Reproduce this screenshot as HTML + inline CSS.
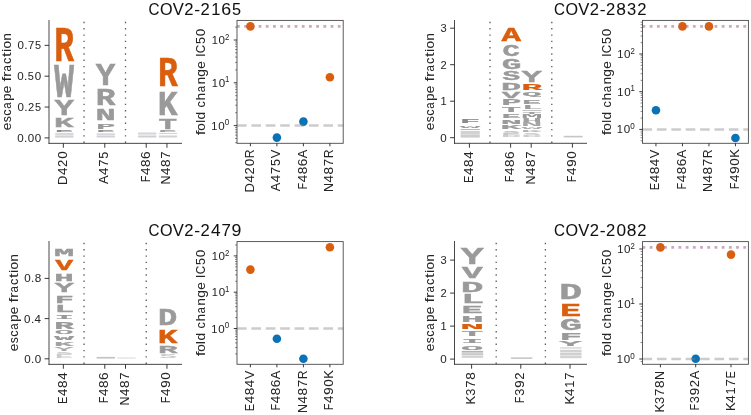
<!DOCTYPE html>
<html><head><meta charset="utf-8"><title>escape logos</title>
<style>html,body{margin:0;padding:0;background:#fff;overflow:hidden}
svg{display:block;will-change:transform}
text{font-family:"Liberation Sans",sans-serif;font-size:100px;font-kerning:none;font-variant-ligatures:none;white-space:pre}
text.lg{font-family:"Liberation Mono",monospace;font-weight:bold}</style></head>
<body><svg width="751" height="415" viewBox="0 0 751 415">
<rect width="751" height="415" fill="#fff"/>
<line x1="84.07" y1="21.8" x2="84.07" y2="143.35" stroke="#5a5a5a" stroke-width="1.3" stroke-dasharray="1.4 4.9"/>
<line x1="125.51" y1="21.8" x2="125.51" y2="143.35" stroke="#5a5a5a" stroke-width="1.3" stroke-dasharray="1.4 4.9"/>
<text class="lg" transform="matrix(0.329,0,0,0.49948,54.28886,61.2)" fill="#d95f0e" stroke="#d95f0e" stroke-width="0.6" vector-effect="non-scaling-stroke">R</text>
<text class="lg" transform="matrix(0.32855,0,0,0.47974,54.3,96.9)" fill="#9a9a9a" stroke="#9a9a9a" stroke-width="0.6" vector-effect="non-scaling-stroke">W</text>
<text class="lg" transform="matrix(0.32575,0,0,0.21406,54.38399,114.7)" fill="#9a9a9a" stroke="#9a9a9a" stroke-width="0.6" vector-effect="non-scaling-stroke">Y</text>
<text class="lg" transform="matrix(0.33057,0,0,0.13056,54.03111,126.5)" fill="#9a9a9a" stroke="#9a9a9a" stroke-width="0.6" vector-effect="non-scaling-stroke">K</text>
<text class="lg" transform="matrix(0.31078,0,0,0.03947,54.68698,131.6)" fill="#8a8a8a">E</text>
<rect x="55.218" y="132.9" width="18.27" height="2" fill="#d6d8db"/>
<rect x="55.218" y="135.4" width="18.27" height="2.2" fill="#d0d2d5"/>
<text class="lg" transform="matrix(0.32575,0,0,0.31881,95.82399,84.7)" fill="#9a9a9a" stroke="#9a9a9a" stroke-width="0.6" vector-effect="non-scaling-stroke">Y</text>
<text class="lg" transform="matrix(0.329,0,0,0.24291,95.72886,105.3)" fill="#9a9a9a" stroke="#9a9a9a" stroke-width="0.6" vector-effect="non-scaling-stroke">R</text>
<text class="lg" transform="matrix(0.33632,0,0,0.17003,95.48224,119.7)" fill="#9a9a9a" stroke="#9a9a9a" stroke-width="0.6" vector-effect="non-scaling-stroke">N</text>
<text class="lg" transform="matrix(0.31793,0,0,0.07894,96.29592,128.5)" fill="#9a9a9a" stroke="#9a9a9a" stroke-width="0.6" vector-effect="non-scaling-stroke">P</text>
<text class="lg" transform="matrix(0.31078,0,0,0.03036,96.12698,132.4)" fill="#8f8f8f">E</text>
<rect x="96.658" y="133.3" width="18.27" height="1.8" fill="#d6d8db"/>
<rect x="96.658" y="135.5" width="18.27" height="2" fill="#d0d2d5"/>
<rect x="138.098" y="132.5" width="18.27" height="2.1" fill="#d4d6da"/>
<rect x="138.098" y="135.5" width="18.27" height="2" fill="#cdcfd2"/>
<text class="lg" transform="matrix(0.329,0,0,0.43268,157.88886,86.3)" fill="#d95f0e" stroke="#d95f0e" stroke-width="0.6" vector-effect="non-scaling-stroke">R</text>
<text class="lg" transform="matrix(0.33057,0,0,0.35829,157.63111,114.5)" fill="#9a9a9a" stroke="#9a9a9a" stroke-width="0.6" vector-effect="non-scaling-stroke">K</text>
<text class="lg" transform="matrix(0.30963,0,0,0.14574,158.45951,128.7)" fill="#9a9a9a" stroke="#9a9a9a" stroke-width="0.6" vector-effect="non-scaling-stroke">T</text>
<text class="lg" transform="matrix(0.31078,0,0,0.02581,158.28698,132.4)" fill="#a0a0a0">E</text>
<rect x="158.818" y="133" width="18.27" height="1" fill="#d4d4d4"/>
<rect x="158.818" y="135.5" width="18.27" height="2" fill="#d0d2d5"/>
<line x1="49" y1="20" x2="49" y2="143.8" stroke="#333333" stroke-width="0.9"/>
<line x1="48.55" y1="143.35" x2="182" y2="143.35" stroke="#333333" stroke-width="0.9"/>
<line x1="44.6" y1="45.35" x2="49" y2="45.35" stroke="#222222" stroke-width="0.9"/>
<text transform="matrix(0.11,0,0,0.11717,17.16924,49.35415)" y="0" fill="#262626" stroke="#262626" stroke-width="0.25" vector-effect="non-scaling-stroke"><tspan x="2.47" textLength="58.63" lengthAdjust="spacingAndGlyphs">0</tspan><tspan x="64.44" textLength="30.06" lengthAdjust="spacingAndGlyphs">.</tspan><tspan x="98.33" textLength="57.35" lengthAdjust="spacingAndGlyphs">7</tspan><tspan x="162.76" textLength="55.33" lengthAdjust="spacingAndGlyphs">5</tspan></text>
<line x1="44.6" y1="76.2" x2="49" y2="76.2" stroke="#222222" stroke-width="0.9"/>
<text transform="matrix(0.11,0,0,0.11747,16.93828,80.20415)" y="0" fill="#262626" stroke="#262626" stroke-width="0.25" vector-effect="non-scaling-stroke"><tspan x="2.47" textLength="58.63" lengthAdjust="spacingAndGlyphs">0</tspan><tspan x="64.44" textLength="30.06" lengthAdjust="spacingAndGlyphs">.</tspan><tspan x="99.14" textLength="55.33" lengthAdjust="spacingAndGlyphs">5</tspan><tspan x="161.51" textLength="58.63" lengthAdjust="spacingAndGlyphs">0</tspan></text>
<line x1="44.6" y1="107.05" x2="49" y2="107.05" stroke="#222222" stroke-width="0.9"/>
<text transform="matrix(0.11,0,0,0.11728,17.16924,111.05415)" y="0" fill="#262626" stroke="#262626" stroke-width="0.25" vector-effect="non-scaling-stroke"><tspan x="2.47" textLength="58.63" lengthAdjust="spacingAndGlyphs">0</tspan><tspan x="64.44" textLength="30.06" lengthAdjust="spacingAndGlyphs">.</tspan><tspan x="97.62" textLength="56.51" lengthAdjust="spacingAndGlyphs">2</tspan><tspan x="162.76" textLength="55.33" lengthAdjust="spacingAndGlyphs">5</tspan></text>
<line x1="44.6" y1="137.9" x2="49" y2="137.9" stroke="#222222" stroke-width="0.9"/>
<text transform="matrix(0.11,0,0,0.11759,16.93828,141.90415)" y="0" fill="#262626" stroke="#262626" stroke-width="0.25" vector-effect="non-scaling-stroke"><tspan x="2.47" textLength="58.63" lengthAdjust="spacingAndGlyphs">0</tspan><tspan x="64.44" textLength="30.06" lengthAdjust="spacingAndGlyphs">.</tspan><tspan x="97.88" textLength="58.63" lengthAdjust="spacingAndGlyphs">0</tspan><tspan x="161.51" textLength="58.63" lengthAdjust="spacingAndGlyphs">0</tspan></text>
<line x1="63.35" y1="143.35" x2="63.35" y2="147.75" stroke="#222222" stroke-width="0.9"/>
<text transform="matrix(0,-0.127,0.13496,0,66.85,185.06963)" y="0" fill="#262626" stroke="#262626" stroke-width="0.25" vector-effect="non-scaling-stroke"><tspan x="1.33" textLength="74.72" lengthAdjust="spacingAndGlyphs">D</tspan><tspan x="79.47" textLength="58.63" lengthAdjust="spacingAndGlyphs">4</tspan><tspan x="142.84" textLength="56.51" lengthAdjust="spacingAndGlyphs">2</tspan><tspan x="206.72" textLength="58.63" lengthAdjust="spacingAndGlyphs">0</tspan></text>
<line x1="104.79" y1="143.35" x2="104.79" y2="147.75" stroke="#222222" stroke-width="0.9"/>
<text transform="matrix(0,-0.127,0.13475,0,108.29,183.97822)" y="0" fill="#262626" stroke="#262626" stroke-width="0.25" vector-effect="non-scaling-stroke"><tspan x="0.58" textLength="67.19" lengthAdjust="spacingAndGlyphs">A</tspan><tspan x="70.87" textLength="58.63" lengthAdjust="spacingAndGlyphs">4</tspan><tspan x="134.95" textLength="57.35" lengthAdjust="spacingAndGlyphs">7</tspan><tspan x="199.39" textLength="55.33" lengthAdjust="spacingAndGlyphs">5</tspan></text>
<line x1="146.23" y1="143.35" x2="146.23" y2="147.75" stroke="#222222" stroke-width="0.9"/>
<text transform="matrix(0,-0.127,0.13514,0,149.73,182.59536)" y="0" fill="#262626" stroke="#262626" stroke-width="0.25" vector-effect="non-scaling-stroke"><tspan x="2.78" textLength="52.36" lengthAdjust="spacingAndGlyphs">F</tspan><tspan x="59.98" textLength="58.63" lengthAdjust="spacingAndGlyphs">4</tspan><tspan x="123.30" textLength="59.26" lengthAdjust="spacingAndGlyphs">8</tspan><tspan x="186.21" textLength="60.68" lengthAdjust="spacingAndGlyphs">6</tspan></text>
<line x1="166.95" y1="143.35" x2="166.95" y2="147.75" stroke="#222222" stroke-width="0.9"/>
<text transform="matrix(0,-0.127,0.13486,0,170.45,184.79058)" y="0" fill="#262626" stroke="#262626" stroke-width="0.25" vector-effect="non-scaling-stroke"><tspan x="1.71" textLength="71.33" lengthAdjust="spacingAndGlyphs">N</tspan><tspan x="77.27" textLength="58.63" lengthAdjust="spacingAndGlyphs">4</tspan><tspan x="140.58" textLength="59.26" lengthAdjust="spacingAndGlyphs">8</tspan><tspan x="204.97" textLength="57.35" lengthAdjust="spacingAndGlyphs">7</tspan></text>
<text transform="matrix(0,-0.1264,0.13245,0,11.2,130.36461)" y="0" fill="#262626" stroke="#262626" stroke-width="0.25" vector-effect="non-scaling-stroke"><tspan x="0.93" textLength="60.07" lengthAdjust="spacingAndGlyphs">e</tspan><tspan x="64.28" textLength="47.93" lengthAdjust="spacingAndGlyphs">s</tspan><tspan x="114.88" textLength="50.17" lengthAdjust="spacingAndGlyphs">c</tspan><tspan x="170.79" textLength="50.01" lengthAdjust="spacingAndGlyphs">a</tspan><tspan x="231.95" textLength="60.51" lengthAdjust="spacingAndGlyphs">p</tspan><tspan x="294.29" textLength="60.07" lengthAdjust="spacingAndGlyphs">e</tspan><tspan x="354.88"> </tspan><tspan x="387.11" textLength="36.48" lengthAdjust="spacingAndGlyphs">f</tspan><tspan x="422.45" textLength="42.67" lengthAdjust="spacingAndGlyphs">r</tspan><tspan x="465.17" textLength="50.01" lengthAdjust="spacingAndGlyphs">a</tspan><tspan x="525.52" textLength="50.17" lengthAdjust="spacingAndGlyphs">c</tspan><tspan x="579.91" textLength="37.13" lengthAdjust="spacingAndGlyphs">t</tspan><tspan x="621.04" textLength="22.71" lengthAdjust="spacingAndGlyphs">i</tspan><tspan x="647.29" textLength="59.12" lengthAdjust="spacingAndGlyphs">o</tspan><tspan x="709.34" textLength="59.96" lengthAdjust="spacingAndGlyphs">n</tspan></text>
<line x1="490" y1="21.8" x2="490" y2="143.3" stroke="#5a5a5a" stroke-width="1.3" stroke-dasharray="1.4 4.9"/>
<line x1="551.8" y1="21.8" x2="551.8" y2="143.3" stroke="#5a5a5a" stroke-width="1.3" stroke-dasharray="1.4 4.9"/>
<text class="lg" transform="matrix(0.33567,0,0,0.05314,460.09214,122.5)" fill="#8a8a8a" stroke="#8a8a8a" stroke-width="0.6" vector-effect="non-scaling-stroke">F</text>
<text class="lg" transform="matrix(0.35356,0,0,0.04251,459.4,127.6)" fill="#9a9a9a">W</text>
<rect x="460.672" y="129" width="19.08" height="1" fill="#b8b8b8"/>
<rect x="460.672" y="130.9" width="19.08" height="3.3" fill="#d2d2d2"/>
<rect x="460.672" y="134.4" width="19.08" height="3.2" fill="#cdcdcd"/>
<text class="lg" transform="matrix(0.32437,0,0,0.20951,501.4674,41.2)" fill="#d95f0e" stroke="#d95f0e" stroke-width="0.6" vector-effect="non-scaling-stroke">A</text>
<text class="lg" transform="matrix(0.28832,0,0,0.16207,502.38723,56.24173)" fill="#9a9a9a" stroke="#9a9a9a" stroke-width="0.6" vector-effect="non-scaling-stroke">C</text>
<text class="lg" transform="matrix(0.32864,0,0,0.13997,501.62791,68.56331)" fill="#9a9a9a" stroke="#9a9a9a" stroke-width="0.6" vector-effect="non-scaling-stroke">G</text>
<text class="lg" transform="matrix(0.29561,0,0,0.13702,502.56951,79.86619)" fill="#9a9a9a" stroke="#9a9a9a" stroke-width="0.6" vector-effect="non-scaling-stroke">S</text>
<text class="lg" transform="matrix(0.33654,0,0,0.10475,501.03716,89.7)" fill="#9a9a9a" stroke="#9a9a9a" stroke-width="0.6" vector-effect="non-scaling-stroke">D</text>
<text class="lg" transform="matrix(0.31188,0,0,0.09716,501.83436,97.9)" fill="#9a9a9a" stroke="#9a9a9a" stroke-width="0.6" vector-effect="non-scaling-stroke">V</text>
<text class="lg" transform="matrix(0.33256,0,0,0.08198,501.47697,105.4)" fill="#9a9a9a" stroke="#9a9a9a" stroke-width="0.6" vector-effect="non-scaling-stroke">P</text>
<text class="lg" transform="matrix(0.32385,0,0,0.07135,501.48285,111.7)" fill="#9a9a9a" stroke="#9a9a9a" stroke-width="0.6" vector-effect="non-scaling-stroke">T</text>
<text class="lg" transform="matrix(0.31238,0,0,0.05314,501.6989,117.7)" fill="#9a9a9a" stroke="#9a9a9a" stroke-width="0.6" vector-effect="non-scaling-stroke">E</text>
<text class="lg" transform="matrix(0.3518,0,0,0.05769,500.62707,124)" fill="#9a9a9a" stroke="#9a9a9a" stroke-width="0.6" vector-effect="non-scaling-stroke">N</text>
<text class="lg" transform="matrix(0.34572,0,0,0.05314,500.61588,129.3)" fill="#9a9a9a" stroke="#9a9a9a" stroke-width="0.6" vector-effect="non-scaling-stroke">K</text>
<text class="lg" transform="matrix(0.30651,0,0,0.02947,502.24928,132.57122)" fill="#b8b8b8">S</text>
<text class="lg" transform="matrix(0.32456,0,0,0.03036,501.31744,135)" fill="#c4c4c4">E</text>
<text class="lg" transform="matrix(0.34866,0,0,0.02885,500.65728,137.2)" fill="#cccccc">D</text>
<text class="lg" transform="matrix(0.34063,0,0,0.17003,521.58765,81.9)" fill="#9a9a9a" stroke="#9a9a9a" stroke-width="0.6" vector-effect="non-scaling-stroke">Y</text>
<text class="lg" transform="matrix(0.34409,0,0,0.0835,521.48503,90)" fill="#d95f0e" stroke="#d95f0e" stroke-width="0.6" vector-effect="non-scaling-stroke">R</text>
<text class="lg" transform="matrix(0.32582,0,0,0.06007,521.93638,96.31805)" fill="#9a9a9a" stroke="#9a9a9a" stroke-width="0.6" vector-effect="non-scaling-stroke">Q</text>
<text class="lg" transform="matrix(0.31238,0,0,0.06073,522.2989,104.2)" fill="#9a9a9a" stroke="#9a9a9a" stroke-width="0.6" vector-effect="non-scaling-stroke">E</text>
<text class="lg" transform="matrix(0.35793,0,0,0.04858,521.38098,109)" fill="#9a9a9a">L</text>
<rect x="522.472" y="110.1" width="19.08" height="0.8" fill="#b4b4b4"/>
<text class="lg" transform="matrix(0.33495,0,0,0.03644,521.74978,113.8)" fill="#a0a0a0">T</text>
<text class="lg" transform="matrix(0.36238,0,0,0.04403,520.92695,118.2)" fill="#9a9a9a">M</text>
<text class="lg" transform="matrix(0.35435,0,0,0.04403,521.16787,122.2)" fill="#a0a0a0">H</text>
<text class="lg" transform="matrix(0.36461,0,0,0.04403,520.8426,126.1)" fill="#a5a5a5">N</text>
<text class="lg" transform="matrix(0.35356,0,0,0.03492,521.2,129)" fill="#aaaaaa">W</text>
<text class="lg" transform="matrix(0.35696,0,0,0.04099,520.84123,132.3)" fill="#b4b4b4">K</text>
<text class="lg" transform="matrix(0.30651,0,0,0.02947,522.84928,134.97122)" fill="#c4c4c4">S</text>
<text class="lg" transform="matrix(0.34866,0,0,0.03036,521.25728,137.4)" fill="#cccccc">D</text>
<rect x="563.672" y="135.8" width="19.08" height="1.6" fill="#c6c6c6"/>
<line x1="454.5" y1="20" x2="454.5" y2="143.75" stroke="#333333" stroke-width="0.9"/>
<line x1="454.05" y1="143.3" x2="587" y2="143.3" stroke="#333333" stroke-width="0.9"/>
<line x1="450.1" y1="28.2" x2="454.5" y2="28.2" stroke="#222222" stroke-width="0.9"/>
<text transform="matrix(0.11,0,0,0.11751,440.08232,32.20415)" y="0" fill="#262626" stroke="#262626" stroke-width="0.25" vector-effect="non-scaling-stroke"><tspan x="3.76" textLength="56.30" lengthAdjust="spacingAndGlyphs">3</tspan></text>
<line x1="450.1" y1="64.7" x2="454.5" y2="64.7" stroke="#222222" stroke-width="0.9"/>
<text transform="matrix(0.11,0,0,0.11692,440.30254,68.78203)" y="0" fill="#262626" stroke="#262626" stroke-width="0.25" vector-effect="non-scaling-stroke"><tspan x="2.21" textLength="56.51" lengthAdjust="spacingAndGlyphs">2</tspan></text>
<line x1="450.1" y1="101.2" x2="454.5" y2="101.2" stroke="#222222" stroke-width="0.9"/>
<text transform="matrix(0.11,0,0,0.11656,440.2166,105.20952)" y="0" fill="#262626" stroke="#262626" stroke-width="0.25" vector-effect="non-scaling-stroke"><tspan x="3.32" textLength="55.99" lengthAdjust="spacingAndGlyphs">1</tspan></text>
<line x1="450.1" y1="137.7" x2="454.5" y2="137.7" stroke="#222222" stroke-width="0.9"/>
<text transform="matrix(0.11,0,0,0.11751,439.93193,141.70415)" y="0" fill="#262626" stroke="#262626" stroke-width="0.25" vector-effect="non-scaling-stroke"><tspan x="2.47" textLength="58.63" lengthAdjust="spacingAndGlyphs">0</tspan></text>
<line x1="469.4" y1="143.3" x2="469.4" y2="147.7" stroke="#222222" stroke-width="0.9"/>
<text transform="matrix(0,-0.127,0.13486,0,472.9,183.2647)" y="0" fill="#262626" stroke="#262626" stroke-width="0.25" vector-effect="non-scaling-stroke"><tspan x="2.71" textLength="57.81" lengthAdjust="spacingAndGlyphs">E</tspan><tspan x="65.65" textLength="58.63" lengthAdjust="spacingAndGlyphs">4</tspan><tspan x="128.96" textLength="59.26" lengthAdjust="spacingAndGlyphs">8</tspan><tspan x="192.89" textLength="58.63" lengthAdjust="spacingAndGlyphs">4</tspan></text>
<line x1="510.6" y1="143.3" x2="510.6" y2="147.7" stroke="#222222" stroke-width="0.9"/>
<text transform="matrix(0,-0.127,0.13514,0,514.1,182.54536)" y="0" fill="#262626" stroke="#262626" stroke-width="0.25" vector-effect="non-scaling-stroke"><tspan x="2.78" textLength="52.36" lengthAdjust="spacingAndGlyphs">F</tspan><tspan x="59.98" textLength="58.63" lengthAdjust="spacingAndGlyphs">4</tspan><tspan x="123.30" textLength="59.26" lengthAdjust="spacingAndGlyphs">8</tspan><tspan x="186.21" textLength="60.68" lengthAdjust="spacingAndGlyphs">6</tspan></text>
<line x1="531.2" y1="143.3" x2="531.2" y2="147.7" stroke="#222222" stroke-width="0.9"/>
<text transform="matrix(0,-0.127,0.13486,0,534.7,184.74058)" y="0" fill="#262626" stroke="#262626" stroke-width="0.25" vector-effect="non-scaling-stroke"><tspan x="1.71" textLength="71.33" lengthAdjust="spacingAndGlyphs">N</tspan><tspan x="77.27" textLength="58.63" lengthAdjust="spacingAndGlyphs">4</tspan><tspan x="140.58" textLength="59.26" lengthAdjust="spacingAndGlyphs">8</tspan><tspan x="204.97" textLength="57.35" lengthAdjust="spacingAndGlyphs">7</tspan></text>
<line x1="572.4" y1="143.3" x2="572.4" y2="147.7" stroke="#222222" stroke-width="0.9"/>
<text transform="matrix(0,-0.127,0.13514,0,575.9,182.54536)" y="0" fill="#262626" stroke="#262626" stroke-width="0.25" vector-effect="non-scaling-stroke"><tspan x="2.78" textLength="52.36" lengthAdjust="spacingAndGlyphs">F</tspan><tspan x="59.98" textLength="58.63" lengthAdjust="spacingAndGlyphs">4</tspan><tspan x="122.34" textLength="60.55" lengthAdjust="spacingAndGlyphs">9</tspan><tspan x="187.24" textLength="58.63" lengthAdjust="spacingAndGlyphs">0</tspan></text>
<text transform="matrix(0,-0.1264,0.13245,0,433.6,130.36461)" y="0" fill="#262626" stroke="#262626" stroke-width="0.25" vector-effect="non-scaling-stroke"><tspan x="0.93" textLength="60.07" lengthAdjust="spacingAndGlyphs">e</tspan><tspan x="64.28" textLength="47.93" lengthAdjust="spacingAndGlyphs">s</tspan><tspan x="114.88" textLength="50.17" lengthAdjust="spacingAndGlyphs">c</tspan><tspan x="170.79" textLength="50.01" lengthAdjust="spacingAndGlyphs">a</tspan><tspan x="231.95" textLength="60.51" lengthAdjust="spacingAndGlyphs">p</tspan><tspan x="294.29" textLength="60.07" lengthAdjust="spacingAndGlyphs">e</tspan><tspan x="354.88"> </tspan><tspan x="387.11" textLength="36.48" lengthAdjust="spacingAndGlyphs">f</tspan><tspan x="422.45" textLength="42.67" lengthAdjust="spacingAndGlyphs">r</tspan><tspan x="465.17" textLength="50.01" lengthAdjust="spacingAndGlyphs">a</tspan><tspan x="525.52" textLength="50.17" lengthAdjust="spacingAndGlyphs">c</tspan><tspan x="579.91" textLength="37.13" lengthAdjust="spacingAndGlyphs">t</tspan><tspan x="621.04" textLength="22.71" lengthAdjust="spacingAndGlyphs">i</tspan><tspan x="647.29" textLength="59.12" lengthAdjust="spacingAndGlyphs">o</tspan><tspan x="709.34" textLength="59.96" lengthAdjust="spacingAndGlyphs">n</tspan></text>
<line x1="84.07" y1="242.8" x2="84.07" y2="364.35" stroke="#5a5a5a" stroke-width="1.3" stroke-dasharray="1.4 4.9"/>
<line x1="146.23" y1="242.8" x2="146.23" y2="364.35" stroke="#5a5a5a" stroke-width="1.3" stroke-dasharray="1.4 4.9"/>
<text class="lg" transform="matrix(0.33507,0,0,0.11538,54.09616,255.9)" fill="#9a9a9a" stroke="#9a9a9a" stroke-width="0.6" vector-effect="non-scaling-stroke">M</text>
<text class="lg" transform="matrix(0.29822,0,0,0.14423,55.19476,270.4)" fill="#d95f0e" stroke="#d95f0e" stroke-width="0.6" vector-effect="non-scaling-stroke">V</text>
<text class="lg" transform="matrix(0.32641,0,0,0.11083,54.35612,280.6)" fill="#9a9a9a" stroke="#9a9a9a" stroke-width="0.6" vector-effect="non-scaling-stroke">H</text>
<text class="lg" transform="matrix(0.32575,0,0,0.12297,54.38399,291.9)" fill="#9a9a9a" stroke="#9a9a9a" stroke-width="0.6" vector-effect="non-scaling-stroke">Y</text>
<text class="lg" transform="matrix(0.32086,0,0,0.10931,54.68002,302.7)" fill="#9a9a9a" stroke="#9a9a9a" stroke-width="0.6" vector-effect="non-scaling-stroke">F</text>
<text class="lg" transform="matrix(0.32924,0,0,0.10931,54.61226,312.3)" fill="#9a9a9a" stroke="#9a9a9a" stroke-width="0.6" vector-effect="non-scaling-stroke">L</text>
<text class="lg" transform="matrix(0.31383,0,0,0.06224,54.72599,319.2)" fill="#9a9a9a" stroke="#9a9a9a" stroke-width="0.6" vector-effect="non-scaling-stroke">I</text>
<text class="lg" transform="matrix(0.329,0,0,0.1002,54.28886,328.7)" fill="#9a9a9a" stroke="#9a9a9a" stroke-width="0.6" vector-effect="non-scaling-stroke">R</text>
<text class="lg" transform="matrix(0.32599,0,0,0.05157,54.36861,334.24964)" fill="#9a9a9a">O</text>
<text class="lg" transform="matrix(0.32855,0,0,0.05617,54.3,340)" fill="#9a9a9a" stroke="#9a9a9a" stroke-width="0.6" vector-effect="non-scaling-stroke">W</text>
<text class="lg" transform="matrix(0.33057,0,0,0.05769,54.03111,346.1)" fill="#a0a0a0" stroke="#a0a0a0" stroke-width="0.6" vector-effect="non-scaling-stroke">K</text>
<text class="lg" transform="matrix(0.3358,0,0,0.04858,54.08252,350.6)" fill="#a8a8a8">Y</text>
<text class="lg" transform="matrix(0.2935,0,0,0.04125,55.57926,354.15971)" fill="#c4c4c4">S</text>
<text class="lg" transform="matrix(0.31078,0,0,0.04858,54.68698,357.9)" fill="#cbcbcb">E</text>
<rect x="96.658" y="356.9" width="18.27" height="1.7" fill="#c4c4c4"/>
<rect x="117.378" y="357.4" width="18.27" height="1.2" fill="#dedede"/>
<text class="lg" transform="matrix(0.32174,0,0,0.23076,158.03473,325.3)" fill="#9a9a9a" stroke="#9a9a9a" stroke-width="0.6" vector-effect="non-scaling-stroke">D</text>
<text class="lg" transform="matrix(0.33057,0,0,0.20799,157.63111,343.1)" fill="#d95f0e" stroke="#d95f0e" stroke-width="0.6" vector-effect="non-scaling-stroke">K</text>
<text class="lg" transform="matrix(0.329,0,0,0.11234,157.88886,353.3)" fill="#9a9a9a" stroke="#9a9a9a" stroke-width="0.6" vector-effect="non-scaling-stroke">R</text>
<text class="lg" transform="matrix(0.2935,0,0,0.05009,159.17926,358.35108)" fill="#c4c4c4">S</text>
<line x1="49" y1="241" x2="49" y2="364.8" stroke="#333333" stroke-width="0.9"/>
<line x1="48.55" y1="364.35" x2="182" y2="364.35" stroke="#333333" stroke-width="0.9"/>
<line x1="44.6" y1="278.4" x2="49" y2="278.4" stroke="#222222" stroke-width="0.9"/>
<text transform="matrix(0.11,0,0,0.11762,23.9583,282.40415)" y="0" fill="#262626" stroke="#262626" stroke-width="0.25" vector-effect="non-scaling-stroke"><tspan x="2.47" textLength="58.63" lengthAdjust="spacingAndGlyphs">0</tspan><tspan x="64.44" textLength="30.06" lengthAdjust="spacingAndGlyphs">.</tspan><tspan x="97.57" textLength="59.26" lengthAdjust="spacingAndGlyphs">8</tspan></text>
<line x1="44.6" y1="318.6" x2="49" y2="318.6" stroke="#222222" stroke-width="0.9"/>
<text transform="matrix(0.11,0,0,0.11717,23.82402,322.60415)" y="0" fill="#262626" stroke="#262626" stroke-width="0.25" vector-effect="non-scaling-stroke"><tspan x="2.47" textLength="58.63" lengthAdjust="spacingAndGlyphs">0</tspan><tspan x="64.44" textLength="30.06" lengthAdjust="spacingAndGlyphs">.</tspan><tspan x="97.87" textLength="58.63" lengthAdjust="spacingAndGlyphs">4</tspan></text>
<line x1="44.6" y1="358.8" x2="49" y2="358.8" stroke="#222222" stroke-width="0.9"/>
<text transform="matrix(0.11,0,0,0.11762,23.93682,362.80415)" y="0" fill="#262626" stroke="#262626" stroke-width="0.25" vector-effect="non-scaling-stroke"><tspan x="2.47" textLength="58.63" lengthAdjust="spacingAndGlyphs">0</tspan><tspan x="64.44" textLength="30.06" lengthAdjust="spacingAndGlyphs">.</tspan><tspan x="97.88" textLength="58.63" lengthAdjust="spacingAndGlyphs">0</tspan></text>
<line x1="63.35" y1="364.35" x2="63.35" y2="368.75" stroke="#222222" stroke-width="0.9"/>
<text transform="matrix(0,-0.127,0.13486,0,66.85,404.3147)" y="0" fill="#262626" stroke="#262626" stroke-width="0.25" vector-effect="non-scaling-stroke"><tspan x="2.71" textLength="57.81" lengthAdjust="spacingAndGlyphs">E</tspan><tspan x="65.65" textLength="58.63" lengthAdjust="spacingAndGlyphs">4</tspan><tspan x="128.96" textLength="59.26" lengthAdjust="spacingAndGlyphs">8</tspan><tspan x="192.89" textLength="58.63" lengthAdjust="spacingAndGlyphs">4</tspan></text>
<line x1="104.79" y1="364.35" x2="104.79" y2="368.75" stroke="#222222" stroke-width="0.9"/>
<text transform="matrix(0,-0.127,0.13514,0,108.29,403.59536)" y="0" fill="#262626" stroke="#262626" stroke-width="0.25" vector-effect="non-scaling-stroke"><tspan x="2.78" textLength="52.36" lengthAdjust="spacingAndGlyphs">F</tspan><tspan x="59.98" textLength="58.63" lengthAdjust="spacingAndGlyphs">4</tspan><tspan x="123.30" textLength="59.26" lengthAdjust="spacingAndGlyphs">8</tspan><tspan x="186.21" textLength="60.68" lengthAdjust="spacingAndGlyphs">6</tspan></text>
<line x1="125.51" y1="364.35" x2="125.51" y2="368.75" stroke="#222222" stroke-width="0.9"/>
<text transform="matrix(0,-0.127,0.13486,0,129.01,405.79058)" y="0" fill="#262626" stroke="#262626" stroke-width="0.25" vector-effect="non-scaling-stroke"><tspan x="1.71" textLength="71.33" lengthAdjust="spacingAndGlyphs">N</tspan><tspan x="77.27" textLength="58.63" lengthAdjust="spacingAndGlyphs">4</tspan><tspan x="140.58" textLength="59.26" lengthAdjust="spacingAndGlyphs">8</tspan><tspan x="204.97" textLength="57.35" lengthAdjust="spacingAndGlyphs">7</tspan></text>
<line x1="166.95" y1="364.35" x2="166.95" y2="368.75" stroke="#222222" stroke-width="0.9"/>
<text transform="matrix(0,-0.127,0.13514,0,170.45,403.59536)" y="0" fill="#262626" stroke="#262626" stroke-width="0.25" vector-effect="non-scaling-stroke"><tspan x="2.78" textLength="52.36" lengthAdjust="spacingAndGlyphs">F</tspan><tspan x="59.98" textLength="58.63" lengthAdjust="spacingAndGlyphs">4</tspan><tspan x="122.34" textLength="60.55" lengthAdjust="spacingAndGlyphs">9</tspan><tspan x="187.24" textLength="58.63" lengthAdjust="spacingAndGlyphs">0</tspan></text>
<text transform="matrix(0,-0.1264,0.13245,0,17.7,351.36461)" y="0" fill="#262626" stroke="#262626" stroke-width="0.25" vector-effect="non-scaling-stroke"><tspan x="0.93" textLength="60.07" lengthAdjust="spacingAndGlyphs">e</tspan><tspan x="64.28" textLength="47.93" lengthAdjust="spacingAndGlyphs">s</tspan><tspan x="114.88" textLength="50.17" lengthAdjust="spacingAndGlyphs">c</tspan><tspan x="170.79" textLength="50.01" lengthAdjust="spacingAndGlyphs">a</tspan><tspan x="231.95" textLength="60.51" lengthAdjust="spacingAndGlyphs">p</tspan><tspan x="294.29" textLength="60.07" lengthAdjust="spacingAndGlyphs">e</tspan><tspan x="354.88"> </tspan><tspan x="387.11" textLength="36.48" lengthAdjust="spacingAndGlyphs">f</tspan><tspan x="422.45" textLength="42.67" lengthAdjust="spacingAndGlyphs">r</tspan><tspan x="465.17" textLength="50.01" lengthAdjust="spacingAndGlyphs">a</tspan><tspan x="525.52" textLength="50.17" lengthAdjust="spacingAndGlyphs">c</tspan><tspan x="579.91" textLength="37.13" lengthAdjust="spacingAndGlyphs">t</tspan><tspan x="621.04" textLength="22.71" lengthAdjust="spacingAndGlyphs">i</tspan><tspan x="647.29" textLength="59.12" lengthAdjust="spacingAndGlyphs">o</tspan><tspan x="709.34" textLength="59.96" lengthAdjust="spacingAndGlyphs">n</tspan></text>
<line x1="496.2" y1="242.8" x2="496.2" y2="364.3" stroke="#5a5a5a" stroke-width="1.3" stroke-dasharray="1.4 4.9"/>
<line x1="545.4" y1="242.8" x2="545.4" y2="364.3" stroke="#5a5a5a" stroke-width="1.3" stroke-dasharray="1.4 4.9"/>
<text class="lg" transform="matrix(0.38364,0,0,0.23228,460.69822,263.6)" fill="#9a9a9a" stroke="#9a9a9a" stroke-width="0.6" vector-effect="non-scaling-stroke">Y</text>
<text class="lg" transform="matrix(0.35136,0,0,0.16093,461.64877,277.6)" fill="#9a9a9a" stroke="#9a9a9a" stroke-width="0.6" vector-effect="non-scaling-stroke">V</text>
<text class="lg" transform="matrix(0.3793,0,0,0.15182,460.74419,291.5)" fill="#9a9a9a" stroke="#9a9a9a" stroke-width="0.6" vector-effect="non-scaling-stroke">D</text>
<text class="lg" transform="matrix(0.38834,0,0,0.13056,460.94214,302.7)" fill="#9a9a9a" stroke="#9a9a9a" stroke-width="0.6" vector-effect="non-scaling-stroke">L</text>
<text class="lg" transform="matrix(0.35219,0,0,0.10931,461.48689,313.1)" fill="#9a9a9a" stroke="#9a9a9a" stroke-width="0.6" vector-effect="non-scaling-stroke">E</text>
<text class="lg" transform="matrix(0.38491,0,0,0.08805,460.65081,321.8)" fill="#9a9a9a" stroke="#9a9a9a" stroke-width="0.6" vector-effect="non-scaling-stroke">H</text>
<text class="lg" transform="matrix(0.39652,0,0,0.06984,460.28324,329.3)" fill="#d95f0e" stroke="#d95f0e" stroke-width="0.6" vector-effect="non-scaling-stroke">N</text>
<text class="lg" transform="matrix(0.36493,0,0,0.07743,461.25027,336.2)" fill="#9a9a9a" stroke="#9a9a9a" stroke-width="0.6" vector-effect="non-scaling-stroke">T</text>
<text class="lg" transform="matrix(0.37025,0,0,0.05617,461.0817,342.6)" fill="#9a9a9a" stroke="#9a9a9a" stroke-width="0.6" vector-effect="non-scaling-stroke">I</text>
<text class="lg" transform="matrix(0.37087,0,0,0.06041,461.07198,349.54101)" fill="#9a9a9a" stroke="#9a9a9a" stroke-width="0.6" vector-effect="non-scaling-stroke">O</text>
<rect x="461.728" y="350.9" width="21.42" height="1.7" fill="#b4b4b4"/>
<rect x="461.728" y="353.2" width="21.42" height="1.8" fill="#c8c8c8"/>
<rect x="461.728" y="355.5" width="21.42" height="2.3" fill="#d2d2d2"/>
<rect x="510.928" y="357.3" width="21.42" height="1.7" fill="#cacaca"/>
<text class="lg" transform="matrix(0.3793,0,0,0.22772,559.14419,299)" fill="#9a9a9a" stroke="#9a9a9a" stroke-width="0.6" vector-effect="non-scaling-stroke">D</text>
<text class="lg" transform="matrix(0.35219,0,0,0.18977,559.88689,315.5)" fill="#d95f0e" stroke="#d95f0e" stroke-width="0.6" vector-effect="non-scaling-stroke">E</text>
<text class="lg" transform="matrix(0.37039,0,0,0.15618,559.81157,329.54748)" fill="#9a9a9a" stroke="#9a9a9a" stroke-width="0.6" vector-effect="non-scaling-stroke">G</text>
<text class="lg" transform="matrix(0.37844,0,0,0.11234,559.42714,339.5)" fill="#9a9a9a" stroke="#9a9a9a" stroke-width="0.6" vector-effect="non-scaling-stroke">F</text>
<text class="lg" transform="matrix(0.38364,0,0,0.07135,559.09822,346.4)" fill="#9a9a9a" stroke="#9a9a9a" stroke-width="0.6" vector-effect="non-scaling-stroke">Y</text>
<rect x="560.128" y="347.5" width="21.42" height="0.9" fill="#bdbdbd"/>
<rect x="560.128" y="349.8" width="21.42" height="2.6" fill="#d2d2d2"/>
<rect x="560.128" y="352.9" width="21.42" height="2.5" fill="#d0d0d0"/>
<rect x="560.128" y="355.8" width="21.42" height="2.4" fill="#d3d3d3"/>
<line x1="454.5" y1="241" x2="454.5" y2="364.75" stroke="#333333" stroke-width="0.9"/>
<line x1="454.05" y1="364.3" x2="587" y2="364.3" stroke="#333333" stroke-width="0.9"/>
<line x1="450.1" y1="260.1" x2="454.5" y2="260.1" stroke="#222222" stroke-width="0.9"/>
<text transform="matrix(0.11,0,0,0.11751,440.08232,264.10415)" y="0" fill="#262626" stroke="#262626" stroke-width="0.25" vector-effect="non-scaling-stroke"><tspan x="3.76" textLength="56.30" lengthAdjust="spacingAndGlyphs">3</tspan></text>
<line x1="450.1" y1="293.1" x2="454.5" y2="293.1" stroke="#222222" stroke-width="0.9"/>
<text transform="matrix(0.11,0,0,0.11692,440.30254,297.18203)" y="0" fill="#262626" stroke="#262626" stroke-width="0.25" vector-effect="non-scaling-stroke"><tspan x="2.21" textLength="56.51" lengthAdjust="spacingAndGlyphs">2</tspan></text>
<line x1="450.1" y1="326.1" x2="454.5" y2="326.1" stroke="#222222" stroke-width="0.9"/>
<text transform="matrix(0.11,0,0,0.11656,440.2166,330.10952)" y="0" fill="#262626" stroke="#262626" stroke-width="0.25" vector-effect="non-scaling-stroke"><tspan x="3.32" textLength="55.99" lengthAdjust="spacingAndGlyphs">1</tspan></text>
<line x1="450.1" y1="359.1" x2="454.5" y2="359.1" stroke="#222222" stroke-width="0.9"/>
<text transform="matrix(0.11,0,0,0.11751,439.93193,363.10415)" y="0" fill="#262626" stroke="#262626" stroke-width="0.25" vector-effect="non-scaling-stroke"><tspan x="2.47" textLength="58.63" lengthAdjust="spacingAndGlyphs">0</tspan></text>
<line x1="471.6" y1="364.3" x2="471.6" y2="368.7" stroke="#222222" stroke-width="0.9"/>
<text transform="matrix(0,-0.127,0.13514,0,475.1,404.56855)" y="0" fill="#262626" stroke="#262626" stroke-width="0.25" vector-effect="non-scaling-stroke"><tspan x="1.54" textLength="67.27" lengthAdjust="spacingAndGlyphs">K</tspan><tspan x="69.34" textLength="56.30" lengthAdjust="spacingAndGlyphs">3</tspan><tspan x="132.12" textLength="57.35" lengthAdjust="spacingAndGlyphs">7</tspan><tspan x="194.98" textLength="59.26" lengthAdjust="spacingAndGlyphs">8</tspan></text>
<line x1="520.8" y1="364.3" x2="520.8" y2="368.7" stroke="#222222" stroke-width="0.9"/>
<text transform="matrix(0,-0.127,0.13524,0,524.3,403.54536)" y="0" fill="#262626" stroke="#262626" stroke-width="0.25" vector-effect="non-scaling-stroke"><tspan x="2.78" textLength="52.36" lengthAdjust="spacingAndGlyphs">F</tspan><tspan x="61.28" textLength="56.30" lengthAdjust="spacingAndGlyphs">3</tspan><tspan x="122.34" textLength="60.55" lengthAdjust="spacingAndGlyphs">9</tspan><tspan x="186.98" textLength="56.51" lengthAdjust="spacingAndGlyphs">2</tspan></text>
<line x1="570" y1="364.3" x2="570" y2="368.7" stroke="#222222" stroke-width="0.9"/>
<text transform="matrix(0,-0.127,0.13457,0,573.5,404.56855)" y="0" fill="#262626" stroke="#262626" stroke-width="0.25" vector-effect="non-scaling-stroke"><tspan x="1.54" textLength="67.27" lengthAdjust="spacingAndGlyphs">K</tspan><tspan x="68.04" textLength="58.63" lengthAdjust="spacingAndGlyphs">4</tspan><tspan x="132.52" textLength="55.99" lengthAdjust="spacingAndGlyphs">1</tspan><tspan x="195.74" textLength="57.35" lengthAdjust="spacingAndGlyphs">7</tspan></text>
<text transform="matrix(0,-0.1264,0.13245,0,433.6,351.36461)" y="0" fill="#262626" stroke="#262626" stroke-width="0.25" vector-effect="non-scaling-stroke"><tspan x="0.93" textLength="60.07" lengthAdjust="spacingAndGlyphs">e</tspan><tspan x="64.28" textLength="47.93" lengthAdjust="spacingAndGlyphs">s</tspan><tspan x="114.88" textLength="50.17" lengthAdjust="spacingAndGlyphs">c</tspan><tspan x="170.79" textLength="50.01" lengthAdjust="spacingAndGlyphs">a</tspan><tspan x="231.95" textLength="60.51" lengthAdjust="spacingAndGlyphs">p</tspan><tspan x="294.29" textLength="60.07" lengthAdjust="spacingAndGlyphs">e</tspan><tspan x="354.88"> </tspan><tspan x="387.11" textLength="36.48" lengthAdjust="spacingAndGlyphs">f</tspan><tspan x="422.45" textLength="42.67" lengthAdjust="spacingAndGlyphs">r</tspan><tspan x="465.17" textLength="50.01" lengthAdjust="spacingAndGlyphs">a</tspan><tspan x="525.52" textLength="50.17" lengthAdjust="spacingAndGlyphs">c</tspan><tspan x="579.91" textLength="37.13" lengthAdjust="spacingAndGlyphs">t</tspan><tspan x="621.04" textLength="22.71" lengthAdjust="spacingAndGlyphs">i</tspan><tspan x="647.29" textLength="59.12" lengthAdjust="spacingAndGlyphs">o</tspan><tspan x="709.34" textLength="59.96" lengthAdjust="spacingAndGlyphs">n</tspan></text>
<circle cx="250.4" cy="26.4" r="4.3" fill="#d95f0e"/>
<circle cx="276.9" cy="137.6" r="4.3" fill="#0a72b5"/>
<circle cx="303.4" cy="121.6" r="4.3" fill="#0a72b5"/>
<circle cx="329.9" cy="77.2" r="4.3" fill="#d95f0e"/>
<line x1="237" y1="26.3" x2="342.2" y2="26.3" stroke="rgb(160,100,140)" stroke-width="2.8" stroke-dasharray="2.8 4.4" stroke-opacity="0.55"/>
<line x1="237" y1="125.6" x2="343.2" y2="125.6" stroke="rgb(128,128,128)" stroke-width="2.5" stroke-dasharray="9.6 4.8" stroke-opacity="0.4"/>
<rect x="237" y="20.4" width="106.2" height="122.9" fill="none" stroke="#4a4a4a" stroke-width="0.9"/>
<line x1="233.8" y1="125.6" x2="237" y2="125.6" stroke="#222222" stroke-width="0.9"/>
<text transform="matrix(0.11,0,0,0.11705,210.95332,129.60415)" y="0" fill="#262626" stroke="#262626" stroke-width="0.25" vector-effect="non-scaling-stroke"><tspan x="3.32" textLength="55.99" lengthAdjust="spacingAndGlyphs">1</tspan><tspan x="66.10" textLength="58.63" lengthAdjust="spacingAndGlyphs">0</tspan></text>
<text transform="matrix(0.077,0,0,0.08226,224.51235,125.31484)" y="0" fill="#262626" stroke="#262626" stroke-width="0.25" vector-effect="non-scaling-stroke"><tspan x="2.47" textLength="58.63" lengthAdjust="spacingAndGlyphs">0</tspan></text>
<line x1="233.8" y1="82.8" x2="237" y2="82.8" stroke="#222222" stroke-width="0.9"/>
<text transform="matrix(0.11,0,0,0.11705,211.49097,86.80415)" y="0" fill="#262626" stroke="#262626" stroke-width="0.25" vector-effect="non-scaling-stroke"><tspan x="3.32" textLength="55.99" lengthAdjust="spacingAndGlyphs">1</tspan><tspan x="66.10" textLength="58.63" lengthAdjust="spacingAndGlyphs">0</tspan></text>
<text transform="matrix(0.077,0,0,0.08159,224.71162,82.41333)" y="0" fill="#262626" stroke="#262626" stroke-width="0.25" vector-effect="non-scaling-stroke"><tspan x="3.32" textLength="55.99" lengthAdjust="spacingAndGlyphs">1</tspan></text>
<line x1="233.8" y1="40" x2="237" y2="40" stroke="#222222" stroke-width="0.9"/>
<text transform="matrix(0.11,0,0,0.11705,211.26914,44.00415)" y="0" fill="#262626" stroke="#262626" stroke-width="0.25" vector-effect="non-scaling-stroke"><tspan x="3.32" textLength="55.99" lengthAdjust="spacingAndGlyphs">1</tspan><tspan x="66.10" textLength="58.63" lengthAdjust="spacingAndGlyphs">0</tspan></text>
<text transform="matrix(0.077,0,0,0.08185,224.77178,39.71484)" y="0" fill="#262626" stroke="#262626" stroke-width="0.25" vector-effect="non-scaling-stroke"><tspan x="2.21" textLength="56.51" lengthAdjust="spacingAndGlyphs">2</tspan></text>
<line x1="235.1" y1="142.63183" x2="237" y2="142.63183" stroke="#444" stroke-width="0.65"/>
<line x1="235.1" y1="138.48408" x2="237" y2="138.48408" stroke="#444" stroke-width="0.65"/>
<line x1="235.1" y1="135.09513" x2="237" y2="135.09513" stroke="#444" stroke-width="0.65"/>
<line x1="235.1" y1="132.2298" x2="237" y2="132.2298" stroke="#444" stroke-width="0.65"/>
<line x1="235.1" y1="129.74775" x2="237" y2="129.74775" stroke="#444" stroke-width="0.65"/>
<line x1="235.1" y1="127.55842" x2="237" y2="127.55842" stroke="#444" stroke-width="0.65"/>
<line x1="235.1" y1="112.71592" x2="237" y2="112.71592" stroke="#444" stroke-width="0.65"/>
<line x1="235.1" y1="105.17921" x2="237" y2="105.17921" stroke="#444" stroke-width="0.65"/>
<line x1="235.1" y1="99.83183" x2="237" y2="99.83183" stroke="#444" stroke-width="0.65"/>
<line x1="235.1" y1="95.68408" x2="237" y2="95.68408" stroke="#444" stroke-width="0.65"/>
<line x1="235.1" y1="92.29513" x2="237" y2="92.29513" stroke="#444" stroke-width="0.65"/>
<line x1="235.1" y1="89.4298" x2="237" y2="89.4298" stroke="#444" stroke-width="0.65"/>
<line x1="235.1" y1="86.94775" x2="237" y2="86.94775" stroke="#444" stroke-width="0.65"/>
<line x1="235.1" y1="84.75842" x2="237" y2="84.75842" stroke="#444" stroke-width="0.65"/>
<line x1="235.1" y1="69.91592" x2="237" y2="69.91592" stroke="#444" stroke-width="0.65"/>
<line x1="235.1" y1="62.37921" x2="237" y2="62.37921" stroke="#444" stroke-width="0.65"/>
<line x1="235.1" y1="57.03183" x2="237" y2="57.03183" stroke="#444" stroke-width="0.65"/>
<line x1="235.1" y1="52.88408" x2="237" y2="52.88408" stroke="#444" stroke-width="0.65"/>
<line x1="235.1" y1="49.49513" x2="237" y2="49.49513" stroke="#444" stroke-width="0.65"/>
<line x1="235.1" y1="46.6298" x2="237" y2="46.6298" stroke="#444" stroke-width="0.65"/>
<line x1="235.1" y1="44.14775" x2="237" y2="44.14775" stroke="#444" stroke-width="0.65"/>
<line x1="235.1" y1="41.95842" x2="237" y2="41.95842" stroke="#444" stroke-width="0.65"/>
<line x1="235.1" y1="27.11592" x2="237" y2="27.11592" stroke="#444" stroke-width="0.65"/>
<line x1="250.4" y1="143.3" x2="250.4" y2="146.3" stroke="#222222" stroke-width="0.9"/>
<text transform="matrix(0,-0.127,0.13489,0,253.9,192.5439)" y="0" fill="#262626" stroke="#262626" stroke-width="0.25" vector-effect="non-scaling-stroke"><tspan x="1.33" textLength="74.72" lengthAdjust="spacingAndGlyphs">D</tspan><tspan x="79.47" textLength="58.63" lengthAdjust="spacingAndGlyphs">4</tspan><tspan x="142.84" textLength="56.51" lengthAdjust="spacingAndGlyphs">2</tspan><tspan x="206.72" textLength="58.63" lengthAdjust="spacingAndGlyphs">0</tspan><tspan x="269.84" textLength="69.07" lengthAdjust="spacingAndGlyphs">R</tspan></text>
<line x1="276.9" y1="143.3" x2="276.9" y2="146.3" stroke="#222222" stroke-width="0.9"/>
<text transform="matrix(0,-0.127,0.13471,0,280.4,191.31606)" y="0" fill="#262626" stroke="#262626" stroke-width="0.25" vector-effect="non-scaling-stroke"><tspan x="0.58" textLength="67.19" lengthAdjust="spacingAndGlyphs">A</tspan><tspan x="70.87" textLength="58.63" lengthAdjust="spacingAndGlyphs">4</tspan><tspan x="134.95" textLength="57.35" lengthAdjust="spacingAndGlyphs">7</tspan><tspan x="199.39" textLength="55.33" lengthAdjust="spacingAndGlyphs">5</tspan><tspan x="259.61" textLength="67.69" lengthAdjust="spacingAndGlyphs">V</tspan></text>
<line x1="303.4" y1="143.3" x2="303.4" y2="146.3" stroke="#222222" stroke-width="0.9"/>
<text transform="matrix(0,-0.127,0.13503,0,306.9,189.9332)" y="0" fill="#262626" stroke="#262626" stroke-width="0.25" vector-effect="non-scaling-stroke"><tspan x="2.78" textLength="52.36" lengthAdjust="spacingAndGlyphs">F</tspan><tspan x="59.98" textLength="58.63" lengthAdjust="spacingAndGlyphs">4</tspan><tspan x="123.30" textLength="59.26" lengthAdjust="spacingAndGlyphs">8</tspan><tspan x="186.21" textLength="60.68" lengthAdjust="spacingAndGlyphs">6</tspan><tspan x="248.97" textLength="67.19" lengthAdjust="spacingAndGlyphs">A</tspan></text>
<line x1="329.9" y1="143.3" x2="329.9" y2="146.3" stroke="#222222" stroke-width="0.9"/>
<text transform="matrix(0,-0.127,0.1348,0,333.4,192.26484)" y="0" fill="#262626" stroke="#262626" stroke-width="0.25" vector-effect="non-scaling-stroke"><tspan x="1.71" textLength="71.33" lengthAdjust="spacingAndGlyphs">N</tspan><tspan x="77.27" textLength="58.63" lengthAdjust="spacingAndGlyphs">4</tspan><tspan x="140.58" textLength="59.26" lengthAdjust="spacingAndGlyphs">8</tspan><tspan x="204.97" textLength="57.35" lengthAdjust="spacingAndGlyphs">7</tspan><tspan x="267.64" textLength="69.07" lengthAdjust="spacingAndGlyphs">R</tspan></text>
<text transform="matrix(0,-0.1264,0.13305,0,205.3,135.30461)" y="0" fill="#262626" stroke="#262626" stroke-width="0.25" vector-effect="non-scaling-stroke"><tspan x="0.44" textLength="36.48" lengthAdjust="spacingAndGlyphs">f</tspan><tspan x="36.26" textLength="59.12" lengthAdjust="spacingAndGlyphs">o</tspan><tspan x="98.92" textLength="22.71" lengthAdjust="spacingAndGlyphs">l</tspan><tspan x="125.12" textLength="60.45" lengthAdjust="spacingAndGlyphs">d</tspan><tspan x="187.65"> </tspan><tspan x="220.69" textLength="50.17" lengthAdjust="spacingAndGlyphs">c</tspan><tspan x="275.97" textLength="60.38" lengthAdjust="spacingAndGlyphs">h</tspan><tspan x="339.98" textLength="50.01" lengthAdjust="spacingAndGlyphs">a</tspan><tspan x="400.99" textLength="59.96" lengthAdjust="spacingAndGlyphs">n</tspan><tspan x="463.40" textLength="60.45" lengthAdjust="spacingAndGlyphs">g</tspan><tspan x="526.86" textLength="60.07" lengthAdjust="spacingAndGlyphs">e</tspan><tspan x="587.45"> </tspan><tspan x="619.29" textLength="29.38" lengthAdjust="spacingAndGlyphs">I</tspan><tspan x="649.63" textLength="67.04" lengthAdjust="spacingAndGlyphs">C</tspan><tspan x="722.29" textLength="55.33" lengthAdjust="spacingAndGlyphs">5</tspan><tspan x="784.65" textLength="58.63" lengthAdjust="spacingAndGlyphs">0</tspan></text>
<circle cx="655.95" cy="110.2" r="4.3" fill="#0a72b5"/>
<circle cx="682.45" cy="26.4" r="4.3" fill="#d95f0e"/>
<circle cx="708.95" cy="26.4" r="4.3" fill="#d95f0e"/>
<circle cx="735.45" cy="138" r="4.3" fill="#0a72b5"/>
<line x1="642.5" y1="26.3" x2="747.4" y2="26.3" stroke="rgb(160,100,140)" stroke-width="2.8" stroke-dasharray="2.8 4.4" stroke-opacity="0.55"/>
<line x1="642.5" y1="129.4" x2="748.4" y2="129.4" stroke="rgb(128,128,128)" stroke-width="2.5" stroke-dasharray="9.6 4.8" stroke-opacity="0.4"/>
<rect x="642.5" y="20.4" width="105.9" height="122.9" fill="none" stroke="#4a4a4a" stroke-width="0.9"/>
<line x1="639.3" y1="129.4" x2="642.5" y2="129.4" stroke="#222222" stroke-width="0.9"/>
<text transform="matrix(0.11,0,0,0.11705,616.45332,133.40415)" y="0" fill="#262626" stroke="#262626" stroke-width="0.25" vector-effect="non-scaling-stroke"><tspan x="3.32" textLength="55.99" lengthAdjust="spacingAndGlyphs">1</tspan><tspan x="66.10" textLength="58.63" lengthAdjust="spacingAndGlyphs">0</tspan></text>
<text transform="matrix(0.077,0,0,0.08226,630.01235,129.11484)" y="0" fill="#262626" stroke="#262626" stroke-width="0.25" vector-effect="non-scaling-stroke"><tspan x="2.47" textLength="58.63" lengthAdjust="spacingAndGlyphs">0</tspan></text>
<line x1="639.3" y1="91.7" x2="642.5" y2="91.7" stroke="#222222" stroke-width="0.9"/>
<text transform="matrix(0.11,0,0,0.11705,616.99097,95.70415)" y="0" fill="#262626" stroke="#262626" stroke-width="0.25" vector-effect="non-scaling-stroke"><tspan x="3.32" textLength="55.99" lengthAdjust="spacingAndGlyphs">1</tspan><tspan x="66.10" textLength="58.63" lengthAdjust="spacingAndGlyphs">0</tspan></text>
<text transform="matrix(0.077,0,0,0.08159,630.21162,91.31333)" y="0" fill="#262626" stroke="#262626" stroke-width="0.25" vector-effect="non-scaling-stroke"><tspan x="3.32" textLength="55.99" lengthAdjust="spacingAndGlyphs">1</tspan></text>
<line x1="639.3" y1="54" x2="642.5" y2="54" stroke="#222222" stroke-width="0.9"/>
<text transform="matrix(0.11,0,0,0.11705,616.76914,58.00415)" y="0" fill="#262626" stroke="#262626" stroke-width="0.25" vector-effect="non-scaling-stroke"><tspan x="3.32" textLength="55.99" lengthAdjust="spacingAndGlyphs">1</tspan><tspan x="66.10" textLength="58.63" lengthAdjust="spacingAndGlyphs">0</tspan></text>
<text transform="matrix(0.077,0,0,0.08185,630.27178,53.71484)" y="0" fill="#262626" stroke="#262626" stroke-width="0.25" vector-effect="non-scaling-stroke"><tspan x="2.21" textLength="56.51" lengthAdjust="spacingAndGlyphs">2</tspan></text>
<line x1="640.6" y1="140.74883" x2="642.5" y2="140.74883" stroke="#444" stroke-width="0.65"/>
<line x1="640.6" y1="137.7637" x2="642.5" y2="137.7637" stroke="#444" stroke-width="0.65"/>
<line x1="640.6" y1="135.2398" x2="642.5" y2="135.2398" stroke="#444" stroke-width="0.65"/>
<line x1="640.6" y1="133.05351" x2="642.5" y2="133.05351" stroke="#444" stroke-width="0.65"/>
<line x1="640.6" y1="131.12506" x2="642.5" y2="131.12506" stroke="#444" stroke-width="0.65"/>
<line x1="640.6" y1="118.05117" x2="642.5" y2="118.05117" stroke="#444" stroke-width="0.65"/>
<line x1="640.6" y1="111.41253" x2="642.5" y2="111.41253" stroke="#444" stroke-width="0.65"/>
<line x1="640.6" y1="106.70234" x2="642.5" y2="106.70234" stroke="#444" stroke-width="0.65"/>
<line x1="640.6" y1="103.04883" x2="642.5" y2="103.04883" stroke="#444" stroke-width="0.65"/>
<line x1="640.6" y1="100.0637" x2="642.5" y2="100.0637" stroke="#444" stroke-width="0.65"/>
<line x1="640.6" y1="97.5398" x2="642.5" y2="97.5398" stroke="#444" stroke-width="0.65"/>
<line x1="640.6" y1="95.35351" x2="642.5" y2="95.35351" stroke="#444" stroke-width="0.65"/>
<line x1="640.6" y1="93.42506" x2="642.5" y2="93.42506" stroke="#444" stroke-width="0.65"/>
<line x1="640.6" y1="80.35117" x2="642.5" y2="80.35117" stroke="#444" stroke-width="0.65"/>
<line x1="640.6" y1="73.71253" x2="642.5" y2="73.71253" stroke="#444" stroke-width="0.65"/>
<line x1="640.6" y1="69.00234" x2="642.5" y2="69.00234" stroke="#444" stroke-width="0.65"/>
<line x1="640.6" y1="65.34883" x2="642.5" y2="65.34883" stroke="#444" stroke-width="0.65"/>
<line x1="640.6" y1="62.3637" x2="642.5" y2="62.3637" stroke="#444" stroke-width="0.65"/>
<line x1="640.6" y1="59.8398" x2="642.5" y2="59.8398" stroke="#444" stroke-width="0.65"/>
<line x1="640.6" y1="57.65351" x2="642.5" y2="57.65351" stroke="#444" stroke-width="0.65"/>
<line x1="640.6" y1="55.72506" x2="642.5" y2="55.72506" stroke="#444" stroke-width="0.65"/>
<line x1="640.6" y1="42.65117" x2="642.5" y2="42.65117" stroke="#444" stroke-width="0.65"/>
<line x1="640.6" y1="36.01253" x2="642.5" y2="36.01253" stroke="#444" stroke-width="0.65"/>
<line x1="640.6" y1="31.30234" x2="642.5" y2="31.30234" stroke="#444" stroke-width="0.65"/>
<line x1="640.6" y1="27.64883" x2="642.5" y2="27.64883" stroke="#444" stroke-width="0.65"/>
<line x1="640.6" y1="24.6637" x2="642.5" y2="24.6637" stroke="#444" stroke-width="0.65"/>
<line x1="640.6" y1="22.1398" x2="642.5" y2="22.1398" stroke="#444" stroke-width="0.65"/>
<line x1="655.95" y1="143.3" x2="655.95" y2="146.3" stroke="#222222" stroke-width="0.9"/>
<text transform="matrix(0,-0.127,0.1348,0,659.45,190.65254)" y="0" fill="#262626" stroke="#262626" stroke-width="0.25" vector-effect="non-scaling-stroke"><tspan x="2.71" textLength="57.81" lengthAdjust="spacingAndGlyphs">E</tspan><tspan x="65.65" textLength="58.63" lengthAdjust="spacingAndGlyphs">4</tspan><tspan x="128.96" textLength="59.26" lengthAdjust="spacingAndGlyphs">8</tspan><tspan x="192.89" textLength="58.63" lengthAdjust="spacingAndGlyphs">4</tspan><tspan x="254.39" textLength="67.69" lengthAdjust="spacingAndGlyphs">V</tspan></text>
<line x1="682.45" y1="143.3" x2="682.45" y2="146.3" stroke="#222222" stroke-width="0.9"/>
<text transform="matrix(0,-0.127,0.13503,0,685.95,189.9332)" y="0" fill="#262626" stroke="#262626" stroke-width="0.25" vector-effect="non-scaling-stroke"><tspan x="2.78" textLength="52.36" lengthAdjust="spacingAndGlyphs">F</tspan><tspan x="59.98" textLength="58.63" lengthAdjust="spacingAndGlyphs">4</tspan><tspan x="123.30" textLength="59.26" lengthAdjust="spacingAndGlyphs">8</tspan><tspan x="186.21" textLength="60.68" lengthAdjust="spacingAndGlyphs">6</tspan><tspan x="248.97" textLength="67.19" lengthAdjust="spacingAndGlyphs">A</tspan></text>
<line x1="708.95" y1="143.3" x2="708.95" y2="146.3" stroke="#222222" stroke-width="0.9"/>
<text transform="matrix(0,-0.127,0.1348,0,712.45,192.26484)" y="0" fill="#262626" stroke="#262626" stroke-width="0.25" vector-effect="non-scaling-stroke"><tspan x="1.71" textLength="71.33" lengthAdjust="spacingAndGlyphs">N</tspan><tspan x="77.27" textLength="58.63" lengthAdjust="spacingAndGlyphs">4</tspan><tspan x="140.58" textLength="59.26" lengthAdjust="spacingAndGlyphs">8</tspan><tspan x="204.97" textLength="57.35" lengthAdjust="spacingAndGlyphs">7</tspan><tspan x="267.64" textLength="69.07" lengthAdjust="spacingAndGlyphs">R</tspan></text>
<line x1="735.45" y1="143.3" x2="735.45" y2="146.3" stroke="#222222" stroke-width="0.9"/>
<text transform="matrix(0,-0.127,0.13503,0,738.95,189.57354)" y="0" fill="#262626" stroke="#262626" stroke-width="0.25" vector-effect="non-scaling-stroke"><tspan x="2.78" textLength="52.36" lengthAdjust="spacingAndGlyphs">F</tspan><tspan x="59.98" textLength="58.63" lengthAdjust="spacingAndGlyphs">4</tspan><tspan x="122.34" textLength="60.55" lengthAdjust="spacingAndGlyphs">9</tspan><tspan x="187.24" textLength="58.63" lengthAdjust="spacingAndGlyphs">0</tspan><tspan x="249.93" textLength="67.27" lengthAdjust="spacingAndGlyphs">K</tspan></text>
<text transform="matrix(0,-0.1264,0.13305,0,610.9,135.30461)" y="0" fill="#262626" stroke="#262626" stroke-width="0.25" vector-effect="non-scaling-stroke"><tspan x="0.44" textLength="36.48" lengthAdjust="spacingAndGlyphs">f</tspan><tspan x="36.26" textLength="59.12" lengthAdjust="spacingAndGlyphs">o</tspan><tspan x="98.92" textLength="22.71" lengthAdjust="spacingAndGlyphs">l</tspan><tspan x="125.12" textLength="60.45" lengthAdjust="spacingAndGlyphs">d</tspan><tspan x="187.65"> </tspan><tspan x="220.69" textLength="50.17" lengthAdjust="spacingAndGlyphs">c</tspan><tspan x="275.97" textLength="60.38" lengthAdjust="spacingAndGlyphs">h</tspan><tspan x="339.98" textLength="50.01" lengthAdjust="spacingAndGlyphs">a</tspan><tspan x="400.99" textLength="59.96" lengthAdjust="spacingAndGlyphs">n</tspan><tspan x="463.40" textLength="60.45" lengthAdjust="spacingAndGlyphs">g</tspan><tspan x="526.86" textLength="60.07" lengthAdjust="spacingAndGlyphs">e</tspan><tspan x="587.45"> </tspan><tspan x="619.29" textLength="29.38" lengthAdjust="spacingAndGlyphs">I</tspan><tspan x="649.63" textLength="67.04" lengthAdjust="spacingAndGlyphs">C</tspan><tspan x="722.29" textLength="55.33" lengthAdjust="spacingAndGlyphs">5</tspan><tspan x="784.65" textLength="58.63" lengthAdjust="spacingAndGlyphs">0</tspan></text>
<circle cx="250.4" cy="269.6" r="4.3" fill="#d95f0e"/>
<circle cx="276.9" cy="338.7" r="4.3" fill="#0a72b5"/>
<circle cx="303.4" cy="358.75" r="4.3" fill="#0a72b5"/>
<circle cx="329.9" cy="247.3" r="4.3" fill="#d95f0e"/>
<line x1="237" y1="328.5" x2="343.2" y2="328.5" stroke="rgb(128,128,128)" stroke-width="2.5" stroke-dasharray="9.6 4.8" stroke-opacity="0.4"/>
<rect x="237" y="241.6" width="106.2" height="122.7" fill="none" stroke="#4a4a4a" stroke-width="0.9"/>
<line x1="233.8" y1="328.5" x2="237" y2="328.5" stroke="#222222" stroke-width="0.9"/>
<text transform="matrix(0.11,0,0,0.11705,210.95332,332.50415)" y="0" fill="#262626" stroke="#262626" stroke-width="0.25" vector-effect="non-scaling-stroke"><tspan x="3.32" textLength="55.99" lengthAdjust="spacingAndGlyphs">1</tspan><tspan x="66.10" textLength="58.63" lengthAdjust="spacingAndGlyphs">0</tspan></text>
<text transform="matrix(0.077,0,0,0.08226,224.51235,328.21484)" y="0" fill="#262626" stroke="#262626" stroke-width="0.25" vector-effect="non-scaling-stroke"><tspan x="2.47" textLength="58.63" lengthAdjust="spacingAndGlyphs">0</tspan></text>
<line x1="233.8" y1="292.2" x2="237" y2="292.2" stroke="#222222" stroke-width="0.9"/>
<text transform="matrix(0.11,0,0,0.11705,211.49097,296.20415)" y="0" fill="#262626" stroke="#262626" stroke-width="0.25" vector-effect="non-scaling-stroke"><tspan x="3.32" textLength="55.99" lengthAdjust="spacingAndGlyphs">1</tspan><tspan x="66.10" textLength="58.63" lengthAdjust="spacingAndGlyphs">0</tspan></text>
<text transform="matrix(0.077,0,0,0.08159,224.71162,291.81333)" y="0" fill="#262626" stroke="#262626" stroke-width="0.25" vector-effect="non-scaling-stroke"><tspan x="3.32" textLength="55.99" lengthAdjust="spacingAndGlyphs">1</tspan></text>
<line x1="233.8" y1="255.9" x2="237" y2="255.9" stroke="#222222" stroke-width="0.9"/>
<text transform="matrix(0.11,0,0,0.11705,211.26914,259.90415)" y="0" fill="#262626" stroke="#262626" stroke-width="0.25" vector-effect="non-scaling-stroke"><tspan x="3.32" textLength="55.99" lengthAdjust="spacingAndGlyphs">1</tspan><tspan x="66.10" textLength="58.63" lengthAdjust="spacingAndGlyphs">0</tspan></text>
<text transform="matrix(0.077,0,0,0.08185,224.77178,255.61484)" y="0" fill="#262626" stroke="#262626" stroke-width="0.25" vector-effect="non-scaling-stroke"><tspan x="2.21" textLength="56.51" lengthAdjust="spacingAndGlyphs">2</tspan></text>
<line x1="235.1" y1="353.87261" x2="237" y2="353.87261" stroke="#444" stroke-width="0.65"/>
<line x1="235.1" y1="347.4805" x2="237" y2="347.4805" stroke="#444" stroke-width="0.65"/>
<line x1="235.1" y1="342.94522" x2="237" y2="342.94522" stroke="#444" stroke-width="0.65"/>
<line x1="235.1" y1="339.42739" x2="237" y2="339.42739" stroke="#444" stroke-width="0.65"/>
<line x1="235.1" y1="336.55311" x2="237" y2="336.55311" stroke="#444" stroke-width="0.65"/>
<line x1="235.1" y1="334.12294" x2="237" y2="334.12294" stroke="#444" stroke-width="0.65"/>
<line x1="235.1" y1="332.01783" x2="237" y2="332.01783" stroke="#444" stroke-width="0.65"/>
<line x1="235.1" y1="330.161" x2="237" y2="330.161" stroke="#444" stroke-width="0.65"/>
<line x1="235.1" y1="317.57261" x2="237" y2="317.57261" stroke="#444" stroke-width="0.65"/>
<line x1="235.1" y1="311.1805" x2="237" y2="311.1805" stroke="#444" stroke-width="0.65"/>
<line x1="235.1" y1="306.64522" x2="237" y2="306.64522" stroke="#444" stroke-width="0.65"/>
<line x1="235.1" y1="303.12739" x2="237" y2="303.12739" stroke="#444" stroke-width="0.65"/>
<line x1="235.1" y1="300.25311" x2="237" y2="300.25311" stroke="#444" stroke-width="0.65"/>
<line x1="235.1" y1="297.82294" x2="237" y2="297.82294" stroke="#444" stroke-width="0.65"/>
<line x1="235.1" y1="295.71783" x2="237" y2="295.71783" stroke="#444" stroke-width="0.65"/>
<line x1="235.1" y1="293.861" x2="237" y2="293.861" stroke="#444" stroke-width="0.65"/>
<line x1="235.1" y1="281.27261" x2="237" y2="281.27261" stroke="#444" stroke-width="0.65"/>
<line x1="235.1" y1="274.8805" x2="237" y2="274.8805" stroke="#444" stroke-width="0.65"/>
<line x1="235.1" y1="270.34522" x2="237" y2="270.34522" stroke="#444" stroke-width="0.65"/>
<line x1="235.1" y1="266.82739" x2="237" y2="266.82739" stroke="#444" stroke-width="0.65"/>
<line x1="235.1" y1="263.95311" x2="237" y2="263.95311" stroke="#444" stroke-width="0.65"/>
<line x1="235.1" y1="261.52294" x2="237" y2="261.52294" stroke="#444" stroke-width="0.65"/>
<line x1="235.1" y1="259.41783" x2="237" y2="259.41783" stroke="#444" stroke-width="0.65"/>
<line x1="235.1" y1="257.561" x2="237" y2="257.561" stroke="#444" stroke-width="0.65"/>
<line x1="235.1" y1="244.97261" x2="237" y2="244.97261" stroke="#444" stroke-width="0.65"/>
<line x1="250.4" y1="364.3" x2="250.4" y2="367.3" stroke="#222222" stroke-width="0.9"/>
<text transform="matrix(0,-0.127,0.1348,0,253.9,411.65254)" y="0" fill="#262626" stroke="#262626" stroke-width="0.25" vector-effect="non-scaling-stroke"><tspan x="2.71" textLength="57.81" lengthAdjust="spacingAndGlyphs">E</tspan><tspan x="65.65" textLength="58.63" lengthAdjust="spacingAndGlyphs">4</tspan><tspan x="128.96" textLength="59.26" lengthAdjust="spacingAndGlyphs">8</tspan><tspan x="192.89" textLength="58.63" lengthAdjust="spacingAndGlyphs">4</tspan><tspan x="254.39" textLength="67.69" lengthAdjust="spacingAndGlyphs">V</tspan></text>
<line x1="276.9" y1="364.3" x2="276.9" y2="367.3" stroke="#222222" stroke-width="0.9"/>
<text transform="matrix(0,-0.127,0.13503,0,280.4,410.9332)" y="0" fill="#262626" stroke="#262626" stroke-width="0.25" vector-effect="non-scaling-stroke"><tspan x="2.78" textLength="52.36" lengthAdjust="spacingAndGlyphs">F</tspan><tspan x="59.98" textLength="58.63" lengthAdjust="spacingAndGlyphs">4</tspan><tspan x="123.30" textLength="59.26" lengthAdjust="spacingAndGlyphs">8</tspan><tspan x="186.21" textLength="60.68" lengthAdjust="spacingAndGlyphs">6</tspan><tspan x="248.97" textLength="67.19" lengthAdjust="spacingAndGlyphs">A</tspan></text>
<line x1="303.4" y1="364.3" x2="303.4" y2="367.3" stroke="#222222" stroke-width="0.9"/>
<text transform="matrix(0,-0.127,0.1348,0,306.9,413.26484)" y="0" fill="#262626" stroke="#262626" stroke-width="0.25" vector-effect="non-scaling-stroke"><tspan x="1.71" textLength="71.33" lengthAdjust="spacingAndGlyphs">N</tspan><tspan x="77.27" textLength="58.63" lengthAdjust="spacingAndGlyphs">4</tspan><tspan x="140.58" textLength="59.26" lengthAdjust="spacingAndGlyphs">8</tspan><tspan x="204.97" textLength="57.35" lengthAdjust="spacingAndGlyphs">7</tspan><tspan x="267.64" textLength="69.07" lengthAdjust="spacingAndGlyphs">R</tspan></text>
<line x1="329.9" y1="364.3" x2="329.9" y2="367.3" stroke="#222222" stroke-width="0.9"/>
<text transform="matrix(0,-0.127,0.13503,0,333.4,410.57354)" y="0" fill="#262626" stroke="#262626" stroke-width="0.25" vector-effect="non-scaling-stroke"><tspan x="2.78" textLength="52.36" lengthAdjust="spacingAndGlyphs">F</tspan><tspan x="59.98" textLength="58.63" lengthAdjust="spacingAndGlyphs">4</tspan><tspan x="122.34" textLength="60.55" lengthAdjust="spacingAndGlyphs">9</tspan><tspan x="187.24" textLength="58.63" lengthAdjust="spacingAndGlyphs">0</tspan><tspan x="249.93" textLength="67.27" lengthAdjust="spacingAndGlyphs">K</tspan></text>
<text transform="matrix(0,-0.1264,0.13305,0,205.3,356.40461)" y="0" fill="#262626" stroke="#262626" stroke-width="0.25" vector-effect="non-scaling-stroke"><tspan x="0.44" textLength="36.48" lengthAdjust="spacingAndGlyphs">f</tspan><tspan x="36.26" textLength="59.12" lengthAdjust="spacingAndGlyphs">o</tspan><tspan x="98.92" textLength="22.71" lengthAdjust="spacingAndGlyphs">l</tspan><tspan x="125.12" textLength="60.45" lengthAdjust="spacingAndGlyphs">d</tspan><tspan x="187.65"> </tspan><tspan x="220.69" textLength="50.17" lengthAdjust="spacingAndGlyphs">c</tspan><tspan x="275.97" textLength="60.38" lengthAdjust="spacingAndGlyphs">h</tspan><tspan x="339.98" textLength="50.01" lengthAdjust="spacingAndGlyphs">a</tspan><tspan x="400.99" textLength="59.96" lengthAdjust="spacingAndGlyphs">n</tspan><tspan x="463.40" textLength="60.45" lengthAdjust="spacingAndGlyphs">g</tspan><tspan x="526.86" textLength="60.07" lengthAdjust="spacingAndGlyphs">e</tspan><tspan x="587.45"> </tspan><tspan x="619.29" textLength="29.38" lengthAdjust="spacingAndGlyphs">I</tspan><tspan x="649.63" textLength="67.04" lengthAdjust="spacingAndGlyphs">C</tspan><tspan x="722.29" textLength="55.33" lengthAdjust="spacingAndGlyphs">5</tspan><tspan x="784.65" textLength="58.63" lengthAdjust="spacingAndGlyphs">0</tspan></text>
<circle cx="660.4" cy="247.4" r="4.3" fill="#d95f0e"/>
<circle cx="695.7" cy="358.8" r="4.3" fill="#0a72b5"/>
<circle cx="731" cy="254.6" r="4.3" fill="#d95f0e"/>
<line x1="642.5" y1="247.4" x2="747.4" y2="247.4" stroke="rgb(160,100,140)" stroke-width="2.8" stroke-dasharray="2.8 4.4" stroke-opacity="0.55"/>
<line x1="642.5" y1="359" x2="748.4" y2="359" stroke="rgb(128,128,128)" stroke-width="2.5" stroke-dasharray="9.6 4.8" stroke-opacity="0.4"/>
<rect x="642.5" y="241.6" width="105.9" height="122.7" fill="none" stroke="#4a4a4a" stroke-width="0.9"/>
<line x1="639.3" y1="359" x2="642.5" y2="359" stroke="#222222" stroke-width="0.9"/>
<text transform="matrix(0.11,0,0,0.11705,616.45332,363.00415)" y="0" fill="#262626" stroke="#262626" stroke-width="0.25" vector-effect="non-scaling-stroke"><tspan x="3.32" textLength="55.99" lengthAdjust="spacingAndGlyphs">1</tspan><tspan x="66.10" textLength="58.63" lengthAdjust="spacingAndGlyphs">0</tspan></text>
<text transform="matrix(0.077,0,0,0.08226,630.01235,358.71484)" y="0" fill="#262626" stroke="#262626" stroke-width="0.25" vector-effect="non-scaling-stroke"><tspan x="2.47" textLength="58.63" lengthAdjust="spacingAndGlyphs">0</tspan></text>
<line x1="639.3" y1="304" x2="642.5" y2="304" stroke="#222222" stroke-width="0.9"/>
<text transform="matrix(0.11,0,0,0.11705,616.99097,308.00415)" y="0" fill="#262626" stroke="#262626" stroke-width="0.25" vector-effect="non-scaling-stroke"><tspan x="3.32" textLength="55.99" lengthAdjust="spacingAndGlyphs">1</tspan><tspan x="66.10" textLength="58.63" lengthAdjust="spacingAndGlyphs">0</tspan></text>
<text transform="matrix(0.077,0,0,0.08159,630.21162,303.61333)" y="0" fill="#262626" stroke="#262626" stroke-width="0.25" vector-effect="non-scaling-stroke"><tspan x="3.32" textLength="55.99" lengthAdjust="spacingAndGlyphs">1</tspan></text>
<line x1="639.3" y1="249" x2="642.5" y2="249" stroke="#222222" stroke-width="0.9"/>
<text transform="matrix(0.11,0,0,0.11705,616.76914,253.00415)" y="0" fill="#262626" stroke="#262626" stroke-width="0.25" vector-effect="non-scaling-stroke"><tspan x="3.32" textLength="55.99" lengthAdjust="spacingAndGlyphs">1</tspan><tspan x="66.10" textLength="58.63" lengthAdjust="spacingAndGlyphs">0</tspan></text>
<text transform="matrix(0.077,0,0,0.08185,630.27178,248.71484)" y="0" fill="#262626" stroke="#262626" stroke-width="0.25" vector-effect="non-scaling-stroke"><tspan x="2.21" textLength="56.51" lengthAdjust="spacingAndGlyphs">2</tspan></text>
<line x1="640.6" y1="361.51666" x2="642.5" y2="361.51666" stroke="#444" stroke-width="0.65"/>
<line x1="640.6" y1="342.44335" x2="642.5" y2="342.44335" stroke="#444" stroke-width="0.65"/>
<line x1="640.6" y1="332.75833" x2="642.5" y2="332.75833" stroke="#444" stroke-width="0.65"/>
<line x1="640.6" y1="325.8867" x2="642.5" y2="325.8867" stroke="#444" stroke-width="0.65"/>
<line x1="640.6" y1="320.55665" x2="642.5" y2="320.55665" stroke="#444" stroke-width="0.65"/>
<line x1="640.6" y1="316.20168" x2="642.5" y2="316.20168" stroke="#444" stroke-width="0.65"/>
<line x1="640.6" y1="312.51961" x2="642.5" y2="312.51961" stroke="#444" stroke-width="0.65"/>
<line x1="640.6" y1="309.33005" x2="642.5" y2="309.33005" stroke="#444" stroke-width="0.65"/>
<line x1="640.6" y1="306.51666" x2="642.5" y2="306.51666" stroke="#444" stroke-width="0.65"/>
<line x1="640.6" y1="287.44335" x2="642.5" y2="287.44335" stroke="#444" stroke-width="0.65"/>
<line x1="640.6" y1="277.75833" x2="642.5" y2="277.75833" stroke="#444" stroke-width="0.65"/>
<line x1="640.6" y1="270.8867" x2="642.5" y2="270.8867" stroke="#444" stroke-width="0.65"/>
<line x1="640.6" y1="265.55665" x2="642.5" y2="265.55665" stroke="#444" stroke-width="0.65"/>
<line x1="640.6" y1="261.20168" x2="642.5" y2="261.20168" stroke="#444" stroke-width="0.65"/>
<line x1="640.6" y1="257.51961" x2="642.5" y2="257.51961" stroke="#444" stroke-width="0.65"/>
<line x1="640.6" y1="254.33005" x2="642.5" y2="254.33005" stroke="#444" stroke-width="0.65"/>
<line x1="640.6" y1="251.51666" x2="642.5" y2="251.51666" stroke="#444" stroke-width="0.65"/>
<line x1="660.4" y1="364.3" x2="660.4" y2="367.3" stroke="#222222" stroke-width="0.9"/>
<text transform="matrix(0,-0.127,0.13503,0,663.9,412.76875)" y="0" fill="#262626" stroke="#262626" stroke-width="0.25" vector-effect="non-scaling-stroke"><tspan x="1.54" textLength="67.27" lengthAdjust="spacingAndGlyphs">K</tspan><tspan x="69.34" textLength="56.30" lengthAdjust="spacingAndGlyphs">3</tspan><tspan x="132.12" textLength="57.35" lengthAdjust="spacingAndGlyphs">7</tspan><tspan x="194.98" textLength="59.26" lengthAdjust="spacingAndGlyphs">8</tspan><tspan x="258.16" textLength="71.33" lengthAdjust="spacingAndGlyphs">N</tspan></text>
<line x1="695.7" y1="364.3" x2="695.7" y2="367.3" stroke="#222222" stroke-width="0.9"/>
<text transform="matrix(0,-0.127,0.13511,0,699.2,410.9332)" y="0" fill="#262626" stroke="#262626" stroke-width="0.25" vector-effect="non-scaling-stroke"><tspan x="2.78" textLength="52.36" lengthAdjust="spacingAndGlyphs">F</tspan><tspan x="61.28" textLength="56.30" lengthAdjust="spacingAndGlyphs">3</tspan><tspan x="122.34" textLength="60.55" lengthAdjust="spacingAndGlyphs">9</tspan><tspan x="186.98" textLength="56.51" lengthAdjust="spacingAndGlyphs">2</tspan><tspan x="248.97" textLength="67.19" lengthAdjust="spacingAndGlyphs">A</tspan></text>
<line x1="731" y1="364.3" x2="731" y2="367.3" stroke="#222222" stroke-width="0.9"/>
<text transform="matrix(0,-0.127,0.13457,0,734.5,411.29287)" y="0" fill="#262626" stroke="#262626" stroke-width="0.25" vector-effect="non-scaling-stroke"><tspan x="1.54" textLength="67.27" lengthAdjust="spacingAndGlyphs">K</tspan><tspan x="68.04" textLength="58.63" lengthAdjust="spacingAndGlyphs">4</tspan><tspan x="132.52" textLength="55.99" lengthAdjust="spacingAndGlyphs">1</tspan><tspan x="195.74" textLength="57.35" lengthAdjust="spacingAndGlyphs">7</tspan><tspan x="259.15" textLength="57.81" lengthAdjust="spacingAndGlyphs">E</tspan></text>
<text transform="matrix(0,-0.1264,0.13305,0,610.9,356.40461)" y="0" fill="#262626" stroke="#262626" stroke-width="0.25" vector-effect="non-scaling-stroke"><tspan x="0.44" textLength="36.48" lengthAdjust="spacingAndGlyphs">f</tspan><tspan x="36.26" textLength="59.12" lengthAdjust="spacingAndGlyphs">o</tspan><tspan x="98.92" textLength="22.71" lengthAdjust="spacingAndGlyphs">l</tspan><tspan x="125.12" textLength="60.45" lengthAdjust="spacingAndGlyphs">d</tspan><tspan x="187.65"> </tspan><tspan x="220.69" textLength="50.17" lengthAdjust="spacingAndGlyphs">c</tspan><tspan x="275.97" textLength="60.38" lengthAdjust="spacingAndGlyphs">h</tspan><tspan x="339.98" textLength="50.01" lengthAdjust="spacingAndGlyphs">a</tspan><tspan x="400.99" textLength="59.96" lengthAdjust="spacingAndGlyphs">n</tspan><tspan x="463.40" textLength="60.45" lengthAdjust="spacingAndGlyphs">g</tspan><tspan x="526.86" textLength="60.07" lengthAdjust="spacingAndGlyphs">e</tspan><tspan x="587.45"> </tspan><tspan x="619.29" textLength="29.38" lengthAdjust="spacingAndGlyphs">I</tspan><tspan x="649.63" textLength="67.04" lengthAdjust="spacingAndGlyphs">C</tspan><tspan x="722.29" textLength="55.33" lengthAdjust="spacingAndGlyphs">5</tspan><tspan x="784.65" textLength="58.63" lengthAdjust="spacingAndGlyphs">0</tspan></text>
<text transform="matrix(0.1634,0,0,0.17392,148.48247,15.19798)" y="0" fill="#111" stroke="#111" stroke-width="0.25" vector-effect="non-scaling-stroke"><tspan x="0.90" textLength="67.04" lengthAdjust="spacingAndGlyphs">C</tspan><tspan x="70.76" textLength="76.89" lengthAdjust="spacingAndGlyphs">O</tspan><tspan x="148.87" textLength="67.69" lengthAdjust="spacingAndGlyphs">V</tspan><tspan x="219.16" textLength="56.51" lengthAdjust="spacingAndGlyphs">2</tspan><tspan x="280.66" textLength="35.90" lengthAdjust="spacingAndGlyphs">-</tspan><tspan x="318.86" textLength="56.51" lengthAdjust="spacingAndGlyphs">2</tspan><tspan x="383.59" textLength="55.99" lengthAdjust="spacingAndGlyphs">1</tspan><tspan x="445.34" textLength="60.68" lengthAdjust="spacingAndGlyphs">6</tspan><tspan x="511.25" textLength="55.33" lengthAdjust="spacingAndGlyphs">5</tspan></text>
<text transform="matrix(0.1634,0,0,0.17405,553.88247,15.19798)" y="0" fill="#111" stroke="#111" stroke-width="0.25" vector-effect="non-scaling-stroke"><tspan x="0.90" textLength="67.04" lengthAdjust="spacingAndGlyphs">C</tspan><tspan x="70.76" textLength="76.89" lengthAdjust="spacingAndGlyphs">O</tspan><tspan x="148.87" textLength="67.69" lengthAdjust="spacingAndGlyphs">V</tspan><tspan x="219.16" textLength="56.51" lengthAdjust="spacingAndGlyphs">2</tspan><tspan x="280.66" textLength="35.90" lengthAdjust="spacingAndGlyphs">-</tspan><tspan x="318.86" textLength="56.51" lengthAdjust="spacingAndGlyphs">2</tspan><tspan x="382.43" textLength="59.26" lengthAdjust="spacingAndGlyphs">8</tspan><tspan x="447.66" textLength="56.30" lengthAdjust="spacingAndGlyphs">3</tspan><tspan x="509.73" textLength="56.51" lengthAdjust="spacingAndGlyphs">2</tspan></text>
<text transform="matrix(0.1634,0,0,0.17381,148.48247,236.19798)" y="0" fill="#111" stroke="#111" stroke-width="0.25" vector-effect="non-scaling-stroke"><tspan x="0.90" textLength="67.04" lengthAdjust="spacingAndGlyphs">C</tspan><tspan x="70.76" textLength="76.89" lengthAdjust="spacingAndGlyphs">O</tspan><tspan x="148.87" textLength="67.69" lengthAdjust="spacingAndGlyphs">V</tspan><tspan x="219.16" textLength="56.51" lengthAdjust="spacingAndGlyphs">2</tspan><tspan x="280.66" textLength="35.90" lengthAdjust="spacingAndGlyphs">-</tspan><tspan x="318.86" textLength="56.51" lengthAdjust="spacingAndGlyphs">2</tspan><tspan x="382.74" textLength="58.63" lengthAdjust="spacingAndGlyphs">4</tspan><tspan x="446.81" textLength="57.35" lengthAdjust="spacingAndGlyphs">7</tspan><tspan x="508.71" textLength="60.55" lengthAdjust="spacingAndGlyphs">9</tspan></text>
<text transform="matrix(0.1634,0,0,0.17405,553.88247,236.19798)" y="0" fill="#111" stroke="#111" stroke-width="0.25" vector-effect="non-scaling-stroke"><tspan x="0.90" textLength="67.04" lengthAdjust="spacingAndGlyphs">C</tspan><tspan x="70.76" textLength="76.89" lengthAdjust="spacingAndGlyphs">O</tspan><tspan x="148.87" textLength="67.69" lengthAdjust="spacingAndGlyphs">V</tspan><tspan x="219.16" textLength="56.51" lengthAdjust="spacingAndGlyphs">2</tspan><tspan x="280.66" textLength="35.90" lengthAdjust="spacingAndGlyphs">-</tspan><tspan x="318.86" textLength="56.51" lengthAdjust="spacingAndGlyphs">2</tspan><tspan x="382.75" textLength="58.63" lengthAdjust="spacingAndGlyphs">0</tspan><tspan x="446.05" textLength="59.26" lengthAdjust="spacingAndGlyphs">8</tspan><tspan x="509.73" textLength="56.51" lengthAdjust="spacingAndGlyphs">2</tspan></text>
</svg></body></html>
